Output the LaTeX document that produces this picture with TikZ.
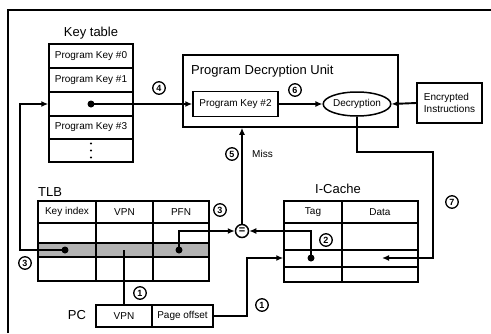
\documentclass[tikz,border=0pt]{standalone}
\usepackage{fontspec}
\setmainfont{Liberation Sans}
\usetikzlibrary{arrows.meta,shapes.geometric}
\begin{document}
\begin{tikzpicture}[x=1pt,y=-1pt,
  box/.style={draw,line width=1.5pt,inner sep=0pt,font=\fontsize{10}{12}\selectfont},
  txt/.style={inner sep=0pt,font=\fontsize{10}{12}\selectfont},
  ttl/.style={font=\fontsize{13}{15}\selectfont,inner sep=0pt},
  num/.style={circle,draw,line width=1.3pt,minimum size=12.5pt,inner sep=0pt,font=\fontsize{9}{9}\selectfont\bfseries},
  conn/.style={line width=1.9pt},
  arr/.style={conn,-{Latex[length=7pt,width=6pt]}},
  dotc/.style={circle,fill,inner sep=0pt,minimum size=7pt},
  grid/.style={line width=1.5pt}
]
\useasboundingbox (0,0) rectangle (491,333);
% frame
\draw[line width=1.5pt] (8,333) -- (8,10) -- (491,10);

% Key table
\node[ttl] (kttl) at (91,33) {Key table};
\node[box,minimum width=84pt,minimum height=24pt] (key0) at (91,56) {Program Key \#0};
\node[box,minimum width=84pt,minimum height=24pt] (key1) at (91,80) {Program Key \#1};
\node[box,minimum width=84pt,minimum height=24pt] (key2) at (91,104) {};
\node[box,minimum width=84pt,minimum height=23pt] (key3) at (91,127.5) {Program Key \#3};
\node[box,minimum width=84pt,minimum height=23pt] (key4) at (91,150.5) {};
\fill (key4.center) ++(0,-7) circle (1.2pt) ++(0,7) circle (1.2pt) ++(0,7) circle (1.2pt);
\node[dotc] (kdot) at (91,104) {};

% Program Decryption Unit
\node[box,minimum width=215pt,minimum height=72pt] (pdu) at (290.5,91) {};
\node[ttl,anchor=west] (pdut) at (191,71) {Program Decryption Unit};
\node[box,minimum width=85pt,minimum height=25pt] (pk2) at (235.5,104) {Program Key \#2};
\node[box,ellipse,minimum width=63pt,minimum height=24pt] (dec) at (357,104) {Decryption};
\node[box,minimum width=65pt,minimum height=40pt,align=left] (enc) at (449.5,103) {Encrypted\\Instructions};

% TLB
\node[ttl,anchor=west] (tlbt) at (38,192) {TLB};
\fill[gray!60] (38,243) rectangle (209,257);
\node[box,minimum width=171pt,minimum height=80pt] (tlb) at (123.5,241) {};
\draw[grid] (38,223) -- (209,223);
\draw[grid] (38,243) -- (209,243);
\draw[grid] (38,257) -- (209,257);
\draw[grid] (96,201) -- (96,281);
\draw[grid] (153,201) -- (153,281);
\node[txt] (hki) at (67,212) {Key index};
\node[txt] (hvpn) at (124.5,212) {VPN};
\node[txt] (hpfn) at (181,212) {PFN};
\node[dotc] (kidot) at (65,250) {};
\node[dotc] (pfndot) at (179,250) {};

% I-Cache
\node[ttl] (ict) at (338,189) {I-Cache};
\node[box,minimum width=134pt,minimum height=81pt] (icache) at (351,241.5) {};
\draw[grid] (284,223) -- (418,223);
\draw[grid] (284,250) -- (418,250);
\draw[grid] (284,267) -- (418,267);
\draw[grid] (342,201) -- (342,282);
\node[txt] (htag) at (313,212) {Tag};
\node[txt] (hdata) at (380,212) {Data};
\node[dotc] (tagdot) at (311,258) {};
\coordinate (dataend) at (382,258);

% comparator
\node[circle,draw,line width=1.5pt,minimum size=13pt,inner sep=0pt,font=\fontsize{11}{11}\selectfont\bfseries] (eq) at (242,231) {=};

% PC
\node[ttl] (pct) at (77,315) {PC};
\node[box,minimum width=56pt,minimum height=22pt] (pcvpn) at (124,316) {VPN};
\node[box,minimum width=61pt,minimum height=22pt] (po) at (182.5,316) {Page offset};

% connectors
\draw[arr] (kdot.center) -- (pk2.west);
\draw[arr] (pk2.east) -- (dec.west);
\draw[arr] (enc.west) -- (dec.east);
\draw[arr] (dec.south) -- (357,152) -- (433,152) -- (433,258) -- (dataend);
\draw[arr] (kidot.center) -- (20,250) -- (20,104) -- (key2.west);
\draw[arr] (pfndot.center) -- (179,231) -- (eq.west);
\draw[arr] (tagdot.center) -- (311,231) -- (eq.east);
\draw[arr] (eq.north) -- (eq.north |- pdu.south);
\draw[arr] (po.east) -- (247,316) -- (247,258) -- (icache.west |- tagdot);
\draw[conn] (pcvpn.north) -- (pcvpn.north |- kidot);

% labels
\node[txt,anchor=west] (miss) at (252,154) {Miss};
\node[num] (n1a) at (140,293) {1};
\node[num] (n1b) at (262,305) {1};
\node[num] (n2) at (326,240) {2};
\node[num] (n3a) at (25,263) {3};
\node[num] (n3b) at (220,210) {3};
\node[num] (n4) at (159,88) {4};
\node[num] (n5) at (232,154) {5};
\node[num] (n6) at (295,90) {6};
\node[num] (n7) at (452,202) {7};
\end{tikzpicture}
\end{document}
